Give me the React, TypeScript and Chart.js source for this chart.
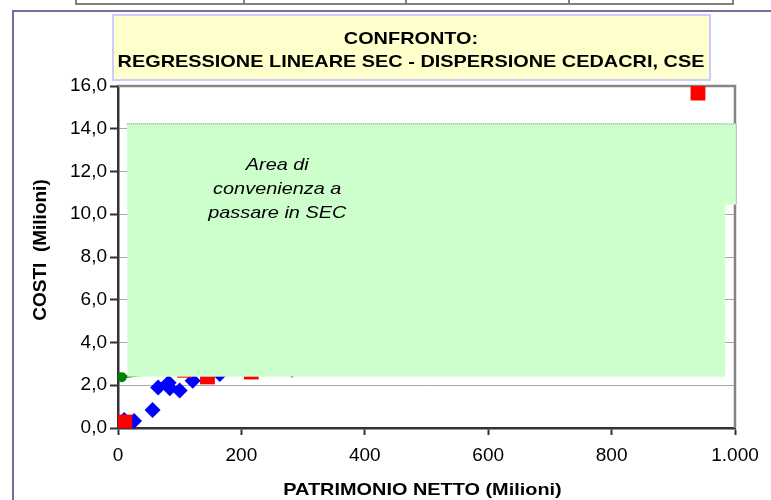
import React, { useEffect, useRef } from 'react';
import { Chart, registerables } from 'chart.js';

Chart.register(...registerables);

// ---- data ----
const blueX = [10, 26, 56, 65, 82, 84, 100, 121, 165, 282];
const blueY = [0.37, 0.33, 0.84, 1.89, 2.12, 1.86, 1.75, 2.21, 2.53, 2.72];
const redX = [11, 108, 145, 216, 940];
const redY = [0.28, 2.7, 2.39, 2.62, 15.67];
const lineX = [6, 940];
const lineY = [2.38, 5.8];

const xMin = 0, xMax = 1000, xStep = 200;
const yMin = 0, yMax = 16, yStep = 2;

// shaded "convenience" area (data units)
const areaLeft = 15;
const areaRightUpper = 1003;
const areaRightLower = 984;
const areaTop = 14.25;
const areaStep = 10.45;
const areaBottom = 2.4;
const areaText = ['Area di', 'convenienza a', 'passare in SEC'];

const titleLines = ['CONFRONTO:', 'REGRESSIONE LINEARE SEC - DISPERSIONE CEDACRI, CSE'];
const xTitle = 'PATRIMONIO NETTO (Milioni)';
const yTitle = 'COSTI  (Milioni)';

const FONT = 'Arial, "Liberation Sans", sans-serif';
const STRETCH = 1.17;

function stretchedText(ctx: CanvasRenderingContext2D, text: string, x: number, y: number) {
  ctx.save();
  ctx.translate(x, y);
  ctx.scale(STRETCH, 1);
  ctx.fillText(text, 0, 0);
  ctx.restore();
}

const backgroundPlugin = {
  id: 'bg',
  beforeDraw(chart: any) {
    const ctx: CanvasRenderingContext2D = chart.ctx;
    const W = chart.width, H = chart.height;
    ctx.save();
    ctx.fillStyle = '#ffffff';
    ctx.fillRect(0, 0, W, H);

    // table fragment at top
    ctx.strokeStyle = '#808080';
    ctx.lineWidth = 2;
    ctx.beginPath();
    ctx.moveTo(76, 4); ctx.lineTo(733, 4);
    [76, 244, 406, 569, 733].forEach((x) => { ctx.moveTo(x, 0); ctx.lineTo(x, 5); });
    ctx.stroke();

    // outer chart border
    ctx.strokeStyle = '#7070a0';
    ctx.lineWidth = 2;
    ctx.strokeRect(13, 11, W + 40, H + 40);

    // title box
    ctx.fillStyle = '#ffffcc';
    ctx.fillRect(113, 15, 597, 65);
    ctx.strokeStyle = '#ccccff';
    ctx.lineWidth = 2;
    ctx.strokeRect(113, 15, 597, 65);
    ctx.fillStyle = '#000000';
    ctx.font = `bold 17px ${FONT}`;
    ctx.textAlign = 'center';
    ctx.textBaseline = 'alphabetic';
    stretchedText(ctx, titleLines[0], 411, 44);
    stretchedText(ctx, titleLines[1], 411, 67);

    // axis titles
    const ca = chart.chartArea;
    stretchedText(ctx, xTitle, (ca.left + ca.right) / 2 - 4, 495);
    ctx.save();
    ctx.translate(46, (ca.top + ca.bottom) / 2 - 7);
    ctx.rotate(-Math.PI / 2);
    ctx.font = `bold 19px ${FONT}`;
    ctx.fillText(yTitle, 0, 0);
    ctx.restore();
    ctx.restore();
  },
  beforeDatasetsDraw(chart: any) {
    const ctx: CanvasRenderingContext2D = chart.ctx;
    const ca = chart.chartArea;
    ctx.save();
    ctx.strokeStyle = '#858585';
    ctx.lineWidth = 2.5;
    ctx.beginPath();
    ctx.moveTo(ca.left, ca.top);
    ctx.lineTo(ca.right, ca.top);
    ctx.lineTo(ca.right, ca.bottom);
    ctx.stroke();
    ctx.restore();
  },
  afterDatasetsDraw(chart: any) {
    const ctx: CanvasRenderingContext2D = chart.ctx;
    const xs = chart.scales.x, ys = chart.scales.y;
    const L = xs.getPixelForValue(areaLeft);
    const R1 = xs.getPixelForValue(areaRightUpper);
    const R2 = xs.getPixelForValue(areaRightLower);
    const T = ys.getPixelForValue(areaTop);
    const M = ys.getPixelForValue(areaStep);
    const B = ys.getPixelForValue(areaBottom);
    ctx.save();
    ctx.fillStyle = '#ccffcc';
    ctx.fillRect(L, T, R2 - L, B - T);
    ctx.fillRect(L, T, R1 - L, M - T);
    ctx.strokeStyle = '#909090';
    ctx.lineWidth = 1;
    ctx.setLineDash([1, 1]);
    ctx.beginPath();
    ctx.moveTo(L, T + 0.5);
    ctx.lineTo(R1 - 0.5, T + 0.5);
    ctx.lineTo(R1 - 0.5, M);
    ctx.stroke();
    ctx.setLineDash([]);
    ctx.fillStyle = '#000000';
    ctx.font = `italic 17px ${FONT}`;
    ctx.textAlign = 'center';
    ctx.textBaseline = 'alphabetic';
    areaText.forEach((t, i) => stretchedText(ctx, t, L + 150, T + 47 + i * 24));
    ctx.restore();
  },
};

function fmtX(v: number) {
  return String(Math.round(v)).replace(/\B(?=(\d{3})+(?!\d))/g, '.');
}
function fmtY(v: number) {
  return Number(v).toFixed(1).replace('.', ',');
}

export default function App() {
  const ref = useRef<HTMLCanvasElement | null>(null);
  useEffect(() => {
    if (!ref.current) return;
    const chart = new Chart(ref.current, {
      type: 'scatter',
      data: {
        datasets: [
          {
            label: 'CEDACRI',
            data: redX.map((x, i) => ({ x, y: redY[i] })),
            pointStyle: 'rect',
            pointRadius: 10.5,
            pointHoverRadius: 10.5,
            backgroundColor: '#ff0000',
            borderColor: '#ff0000',
            borderWidth: 0,
          },
          {
            label: 'CSE',
            data: blueX.map((x, i) => ({ x, y: blueY[i] })),
            pointStyle: 'rectRot',
            pointRadius: 8,
            pointHoverRadius: 8,
            backgroundColor: '#0000ff',
            borderColor: '#0000ff',
            borderWidth: 0,
          },
          {
            label: 'SEC',
            data: lineX.map((x, i) => ({ x, y: lineY[i] })),
            showLine: true,
            borderColor: '#008000',
            backgroundColor: '#008000',
            borderWidth: 3,
            pointRadius: 3.5,
            pointHoverRadius: 3.5,
          } as any,
        ],
      },
      options: {
        animation: false,
        responsive: false,
        devicePixelRatio: 1,
        layout: { padding: { left: 0, top: 86, right: 36, bottom: 0 } },
        plugins: { legend: { display: false }, tooltip: { enabled: false }, title: { display: false } },
        scales: {
          x: {
            type: 'linear',
            min: xMin,
            max: xMax,
            afterFit: (s: any) => { s.height = 72; },
            ticks: { stepSize: xStep, callback: (v: any) => fmtX(v), color: '#000', font: { family: FONT, size: 19 }, padding: 9, maxRotation: 0 },
            grid: { drawOnChartArea: false, drawTicks: true, tickLength: 7, tickColor: '#333333', tickWidth: 2 },
            border: { color: '#333333', width: 2.5 },
          },
          y: {
            type: 'linear',
            min: yMin,
            max: yMax,
            afterFit: (s: any) => { s.width = 118; },
            ticks: { stepSize: yStep, callback: (v: any) => fmtY(v), color: '#000', font: { family: FONT, size: 19 }, padding: 3 },
            grid: { color: '#a8a8a8', lineWidth: 1, drawTicks: true, tickLength: 8, tickColor: '#333333', tickWidth: 2 },
            border: { color: '#333333', width: 2.5 },
          },
        },
      },
      plugins: [backgroundPlugin],
    });
    return () => chart.destroy();
  }, []);
  return (
    <div style={{ position: 'absolute', left: 0, top: 0, width: 771, height: 500 }}>
      <canvas ref={ref} width={771} height={500} style={{ display: 'block', width: 771, height: 500 }} />
    </div>
  );
}
